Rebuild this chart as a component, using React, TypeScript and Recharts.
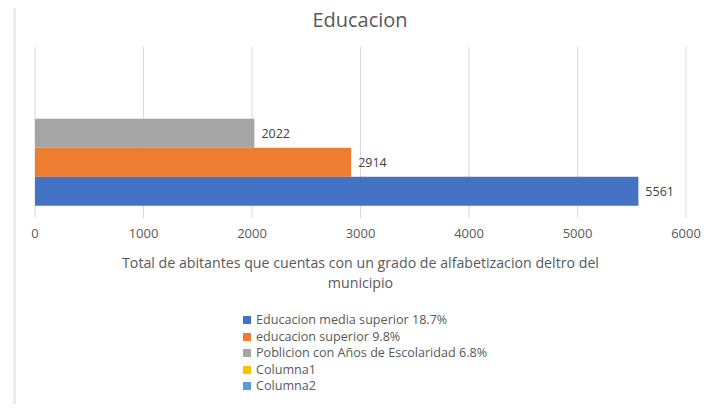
import { Bar, BarChart, CartesianGrid, LabelList, Legend, XAxis, YAxis, Label } from "recharts";

const categories = ["Educacion"];
const seriesNames = [
  "Educacion media superior 18.7%",
  "educacion superior 9.8%",
  "Poblicion con Años de Escolaridad 6.8%",
  "Columna1",
  "Columna2",
];
const seriesValues: (number | null)[] = [5561, 2914, 2022, null, null];
const seriesColors = ["#4472C4", "#ED7D31", "#A5A5A5", "#FFC000", "#5B9BD5"];
const xTicks = [0, 1000, 2000, 3000, 4000, 5000, 6000];
const axisTitleLines = [
  "Total de abitantes que cuentas con un grado de alfabetizacion deltro del",
  "municipio",
];

const keys = seriesNames.map((_, i) => `s${i}`);
const data = categories.map((name) => {
  const row: Record<string, string | number | null> = { name };
  keys.forEach((k, i) => {
    row[k] = seriesValues[i];
  });
  return row;
});

const font = "'Open Sans', sans-serif";
const textColor = "#595959";

function AxisTitle({ viewBox }: any) {
  const cx = viewBox.x + viewBox.width / 2;
  return (
    <text x={cx} y={viewBox.y + 50} textAnchor="middle" fill={textColor} fontSize={14.2} fontFamily={font}>
      {axisTitleLines.map((line, i) => (
        <tspan key={i} x={cx} dy={i === 0 ? 0 : 20}>
          {line}
        </tspan>
      ))}
    </text>
  );
}

function SeriesLegend() {
  return (
    <div style={{ height: 86, paddingLeft: 208, fontFamily: font, fontSize: 12.6, color: textColor }}>
      {seriesNames.map((name, i) => (
        <div key={name} style={{ display: "flex", alignItems: "center", height: 16.5, lineHeight: "16.5px" }}>
          <span style={{ width: 8, height: 8, background: seriesColors[i], marginRight: 5, display: "inline-block" }} />
          {name}
        </div>
      ))}
    </div>
  );
}

export default function App() {
  // Excel draws the first series at the bottom of the group, so bars go in reverse
  const order = keys.map((_, i) => i).reverse();
  return (
    <div style={{ position: "relative", width: 720, height: 412, margin: -8, background: "#fff" }}>
      <div style={{ position: "absolute", left: 13, top: 0, bottom: 0, width: 3, background: "#ececec" }} />
      <div
        style={{
          position: "absolute",
          top: 6,
          left: 0,
          width: 720,
          textAlign: "center",
          fontFamily: font,
          fontSize: 20,
          color: textColor,
        }}
      >
        Educacion
      </div>
      <BarChart
        width={720}
        height={412}
        data={data}
        layout="vertical"
        margin={{ top: 47, right: 34, left: 35, bottom: 14 }}
        barCategoryGap="8%"
        barGap={0}
      >
        <CartesianGrid horizontal={false} stroke="#d9d9d9" />
        <XAxis
          type="number"
          domain={[0, 6000]}
          ticks={xTicks}
          axisLine={false}
          tickLine={false}
          tickMargin={5}
          height={94}
          tick={{ fill: textColor, fontSize: 13, fontFamily: font }}
        >
          <Label content={AxisTitle} />
        </XAxis>
        <YAxis type="category" dataKey="name" hide />
        <Legend verticalAlign="bottom" content={SeriesLegend} />
        {order.map((i) => (
          <Bar key={keys[i]} dataKey={keys[i]} name={seriesNames[i]} fill={seriesColors[i]} isAnimationActive={false}>
            <LabelList dataKey={keys[i]} position="right" offset={7} fill="#404040" fontSize={12.5} fontFamily={font} />
          </Bar>
        ))}
      </BarChart>
    </div>
  );
}
